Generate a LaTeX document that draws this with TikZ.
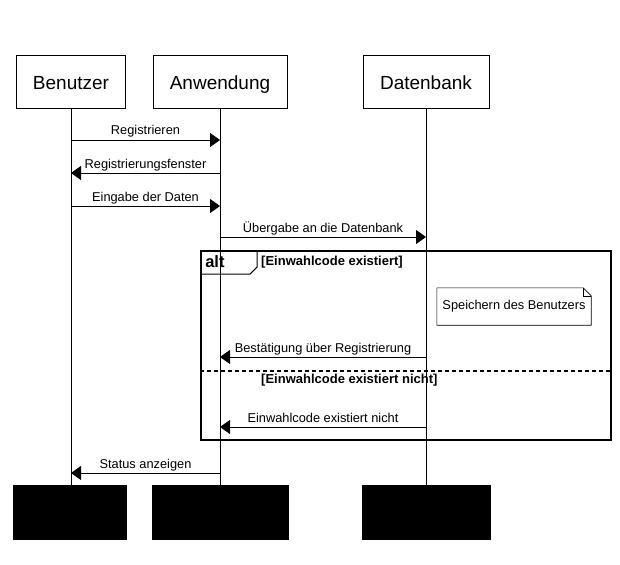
\documentclass[tikz,border=0pt]{standalone}
\usepackage{fontspec}
\setmainfont{Liberation Sans}
\usetikzlibrary{positioning,arrows.meta}
\tikzset{
    actor/.style={draw, rectangle, minimum height=53pt, inner sep=0pt, line width=0.8pt,
    text height=17pt, text depth=0pt, font=\fontsize{19}{22}\selectfont
  },
  actorend/.style={draw, fill=black, rectangle, minimum height=54pt, inner sep=0pt, line width=0.8pt
  },
  lifeline/.style={line width=0.8pt
  },
  msg/.style={-{Triangle[length=10pt,width=14pt]}, line width=0.8pt
  },
  msglabel/.style={anchor=base, yshift=5pt, inner sep=0pt, font=\fontsize{12.8}{15}\selectfont
  },
  guard/.style={anchor=west, inner sep=0pt, font=\bfseries\fontsize{13}{15}\selectfont
  },
  frame/.style={draw, rectangle, inner sep=0pt, line width=1.8pt
  }
}

\begin{document}
\begin{tikzpicture}[x=1pt, y=-1pt]
   \useasboundingbox (0,0) rectangle (620,564);

   \node[actor, minimum width=109pt] (benutzer) at (71,81.5) {Benutzer};
   \node[actor, minimum width=134pt] (anwendung) at (220,81.5) {Anwendung};
   \node[actor, minimum width=126pt] (datenbank) at (426,81.5) {Datenbank};

   \node[actorend, minimum width=113pt] (benutzerend) at (69.5,512) {};
   \node[actorend, minimum width=136pt] (anwendungend) at (220,512) {};
   \node[actorend, minimum width=128pt] (datenbankend) at (426,512) {};

   \draw[lifeline] (benutzer.south) -- (benutzer.south |- benutzerend.north);
   \draw[lifeline] (anwendung) -- (anwendungend);
   \draw[lifeline] (datenbank) -- (datenbankend);

   \foreach \n/\y in {1/140,2/173,3/206,4/237,5/357,6/427,7/473} {
      \coordinate (b\n) at (benutzer |- 0,\y);
      \coordinate (a\n) at (anwendung |- 0,\y);
      \coordinate (d\n) at (datenbank |- 0,\y);
   }

   \node[frame, minimum width=410pt, minimum height=189pt] (altframe) at (406,345.5) {};
   \draw[line width=1pt] (altframe.north west) ++(57,0) -- ++(0,17) -- ++(-7,7) -- ++(-50,0);
   \node[anchor=west, inner sep=0pt, font=\bfseries\fontsize{16.5}{19}\selectfont] (alttag)
      at ([xshift=5pt, yshift=-12pt]altframe.north west) {alt};
   \node[guard] (guardyes) at (261,262) {[Einwahlcode existiert]};
   \coordinate (splitl) at (altframe.west |- 0,371);
   \coordinate (splitr) at (altframe.east |- 0,371);
   \draw[line width=1.5pt, dash pattern=on 4pt off 3pt] (splitl) -- (splitr);
   \node[guard] (guardno) at (261,380) {[Einwahlcode existiert nicht]};

   \node[minimum width=154pt, minimum height=37pt, inner sep=0pt,
      font=\fontsize{12.8}{15}\selectfont] (note) at (514,306.5) {Speichern des Benutzers};
   \draw[line width=0.6pt] (note.south west) -- (note.north west) -- ([xshift=-8pt]note.north east)
      -- ([yshift=-8pt]note.north east) -- (note.south east) -- cycle;
   \draw[line width=0.6pt] ([xshift=-8pt]note.north east) |- ([yshift=-8pt]note.north east);

   \draw[msg] (b1) -- node[msglabel] {Registrieren} (a1);
   \draw[msg] (a2) -- node[msglabel] {Registrierungsfenster} (b2);
   \draw[msg] (b3) -- node[msglabel] {Eingabe der Daten} (a3);
   \draw[msg] (a4) -- node[msglabel] {Übergabe an die Datenbank} (d4);
   \draw[msg] (d5) -- node[msglabel] {Bestätigung über Registrierung} (a5);
   \draw[msg] (d6) -- node[msglabel] {Einwahlcode existiert nicht} (a6);
   \draw[msg] (a7) -- node[msglabel] {Status anzeigen} (b7);
\end{tikzpicture}
\end{document}
